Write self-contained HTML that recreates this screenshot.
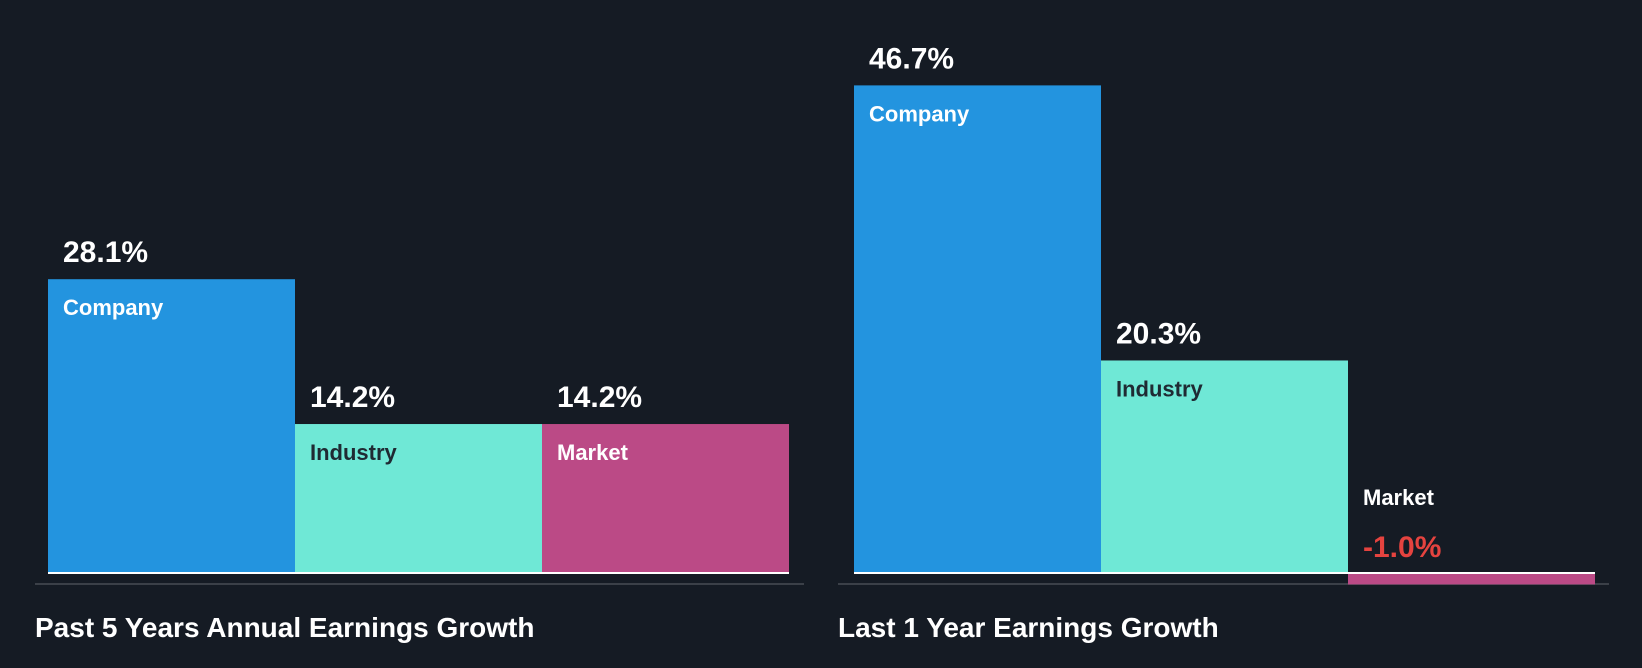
<!DOCTYPE html>
<html><head><meta charset="utf-8"><style>
html,body{margin:0;padding:0;background:#151b24;width:1642px;height:668px;overflow:hidden}
svg{display:block;font-family:"Liberation Sans",sans-serif;font-weight:bold}
</style></head><body>
<svg id="chart" width="1642" height="668"></svg>
<script>
const panelTitles = ["Past 5 Years Annual Earnings Growth", "Last 1 Year Earnings Growth"];
const categories = ["Company", "Industry", "Market"];
const past5Values = [28.1, 14.2, 14.2];
const last1Values = [46.7, 20.3, -1.0];
const colors = ["#2394df", "#6fe8d6", "#bb4a86"];
const labelColors = ["#ffffff", "#1f2a33", "#ffffff"];

const NS = "http://www.w3.org/2000/svg";
const svg = document.getElementById("chart");
const baseY = 572, scale = 10.42, barW = 247;
function y(v){ return baseY - v*scale; }
function mk(tag, attrs){ const e=document.createElementNS(NS,tag); for(const k in attrs) e.setAttribute(k,attrs[k]); svg.appendChild(e); return e; }

const panels = [
  {vals: past5Values, x0: 48, axisX1: 35, axisX2: 804, titleX: 35},
  {vals: last1Values, x0: 854, axisX1: 838, axisX2: 1609, titleX: 838}
];
panels.forEach((p, pi) => {
  const axis = mk("line", {x1:p.axisX1, x2:p.axisX2, y1:584, y2:584, stroke:"#3b4048", "stroke-width":2});
  
  
  p.vals.forEach((v, i) => {
    const x = p.x0 + i*barW;
    const top = Math.min(y(v), baseY), h = Math.abs(y(v) - baseY);
    const neg = v < 0;
    const bar = mk("rect", {x:x, y: neg ? baseY+2 : top, width:barW, height: neg ? Math.max(h,2) : h, fill:colors[i]});
    
    
    const base = mk("rect", {x:x, y:baseY, width:barW, height:2, fill:"#ffffff"});
    
    
    const valTxt = (v < 0 ? "" : "") + v.toFixed(1) + "%";
    if (!neg) {
      const vt = mk("text", {x:x+15, y:top-17, fill:"#ffffff", "font-size":30});
      vt.textContent = valTxt;
      
      
      const ct = mk("text", {x:x+15, y:top+36, fill:labelColors[i], "font-size":22});
      ct.textContent = categories[i];
      
      
    } else {
      const ct = mk("text", {x:x+15, y:baseY-67, fill:"#ffffff", "font-size":22});
      ct.textContent = categories[i];
      
      
      const vt = mk("text", {x:x+15, y:baseY-15, fill:"#e5433f", "font-size":30});
      vt.textContent = valTxt;
      
      
    }
  });
  const t = mk("text", {x:p.titleX, y:637, fill:"#ffffff", "font-size":28});
  t.textContent = panelTitles[pi];
  
  
});
</script>
</body></html>
